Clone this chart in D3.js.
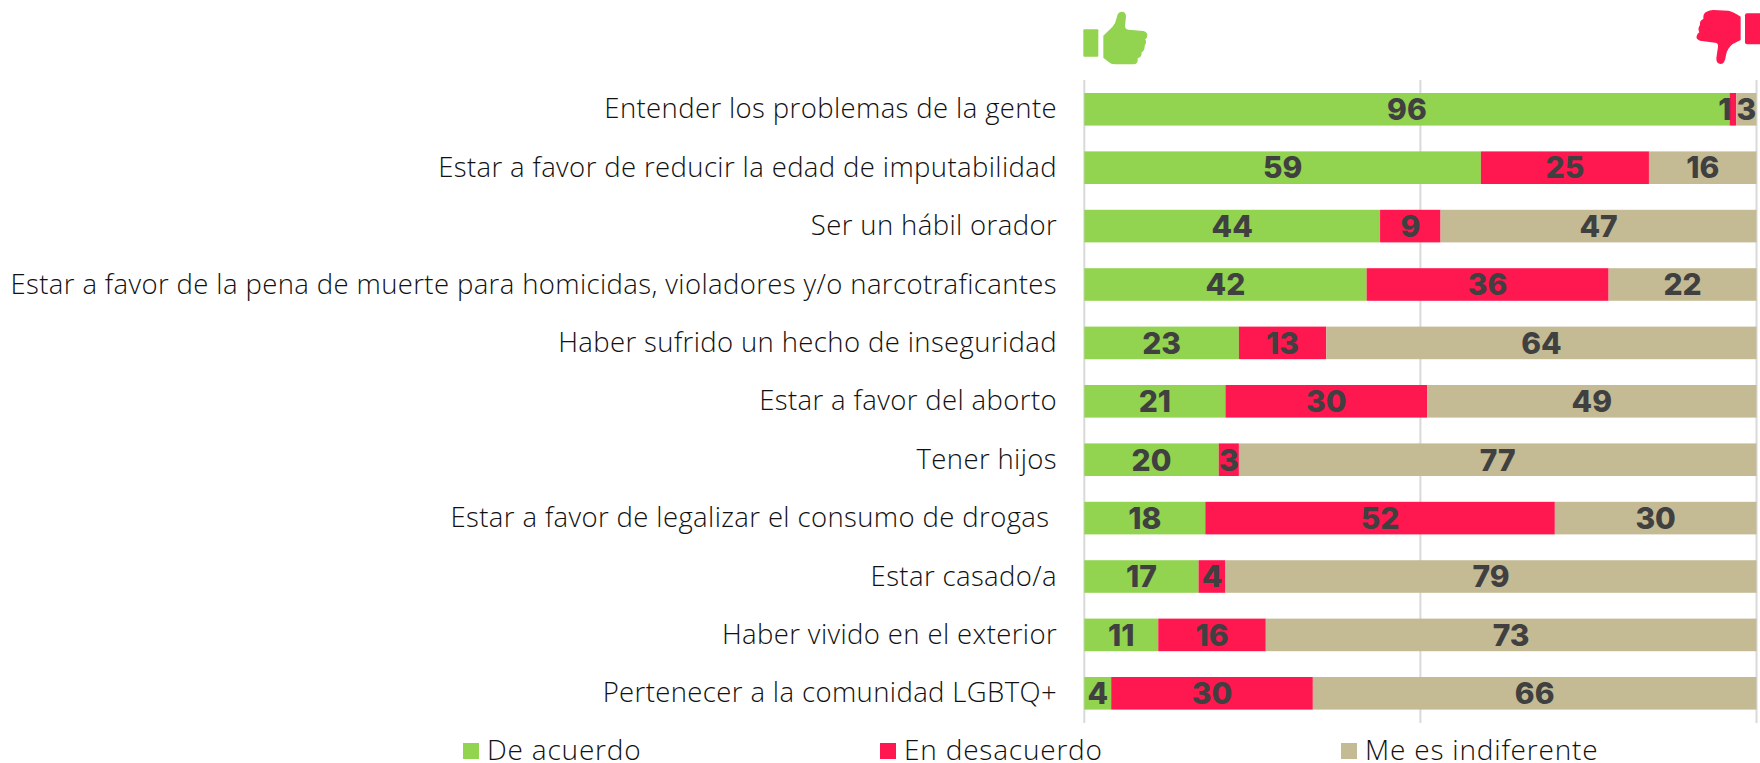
<!DOCTYPE html>
<html><head><meta charset="utf-8">
<script src="https://cdn.jsdelivr.net/npm/d3@7"></script>
<style>html,body{margin:0;padding:0;background:#fff}svg{display:block}</style></head>
<body><div id="c"></div>
<script>
const categories = ["Entender los problemas de la gente","Estar a favor de reducir la edad de imputabilidad","Ser un hábil orador","Estar a favor de la pena de muerte para homicidas, violadores y/o narcotraficantes","Haber sufrido un hecho de inseguridad","Estar a favor del aborto","Tener hijos","Estar a favor de legalizar el consumo de drogas ","Estar casado/a","Haber vivido en el exterior","Pertenecer a la comunidad LGBTQ+"];
const deAcuerdo = [96,59,44,42,23,21,20,18,17,11,4];
const enDesacuerdo = [1,25,9,36,13,30,3,52,4,16,30];
const indiferente = [3,16,47,22,64,49,77,30,79,73,66];
const seriesNames = ["De acuerdo","En desacuerdo","Me es indiferente"];
const colors = ["#92D350","#FF174F","#C4BB95"];
const gridTicks = [0,50,100];

const W=1760,H=763;
const svg=d3.select("#c").append("svg").attr("width",W).attr("height",H);
const x=d3.scaleLinear().domain([0,100]).range([1084.3,1756.5]);
const y=d3.scaleBand().domain(categories).range([93,709.6]).paddingInner(0.442);
const LF="'Open Sans', Lato, sans-serif";

svg.append("g").selectAll("line").data(gridTicks).join("line")
  .attr("x1",d=>x(d)).attr("x2",d=>x(d)).attr("y1",80).attr("y2",723)
  .attr("stroke","#d9d9d9").attr("stroke-width",2);

const rows=categories.map((c,i)=>{
  const vals=[deAcuerdo[i],enDesacuerdo[i],indiferente[i]];
  let a=0;
  return vals.map((v,s)=>{const o={c,s,v,x0:a,x1:a+v};a+=v;return o;});
}).flat();

svg.append("g").selectAll("rect").data(rows).join("rect")
  .attr("x",d=>x(d.x0)).attr("width",d=>x(d.x1)-x(d.x0))
  .attr("y",d=>y(d.c)).attr("height",y.bandwidth())
  .attr("fill",d=>colors[d.s]);

svg.append("g").selectAll("text").data(categories).join("text")
  .attr("x",1057).attr("y",d=>y(d)+y.bandwidth()/2).attr("dy","0.33em")
  .attr("text-anchor","end").attr("xml:space","preserve").style("white-space","pre")
  .attr("font-family",LF).attr("font-weight",300).attr("font-size",27.5).attr("letter-spacing",0.38).attr("fill","#111")
  .text(d=>d);

svg.append("g").selectAll("text").data(rows).join("text")
  .attr("x",d=>x((d.x0+d.x1)/2)+(d.v===1?-8:0)).attr("y",d=>y(d.c)+y.bandwidth()/2).attr("dy","0.36em")
  .attr("text-anchor","middle").attr("font-family","Inter, sans-serif").attr("font-weight",800)
  .attr("font-size",30).attr("fill","#404040").text(d=>d.v);

const legendX=[463,880,1341];
const lg=svg.append("g").selectAll("g").data(seriesNames).join("g");
lg.append("rect").attr("x",(d,i)=>legendX[i]).attr("y",743).attr("width",16).attr("height",16).attr("fill",(d,i)=>colors[i]);
lg.append("text").attr("x",(d,i)=>legendX[i]+24).attr("y",750).attr("dy","0.35em")
  .attr("font-family",LF).attr("font-weight",300).attr("font-size",28).attr("letter-spacing",0.8).attr("fill","#111").text(d=>d);

// thumb icons
const up=svg.append("g").attr("transform","translate(1075,5) scale(0.3333)").attr("fill",colors[0]);
up.append("rect").attr("x",25).attr("y",73).attr("width",45).attr("height",82).attr("rx",3);
up.append("path").attr("d","M85,92 L112,66 Q122,55 125,38 Q128,20 140,20 Q153,20 153,35 L150,62 Q150,73 160,74 L205,78 Q218,82 217,92 Q216,100 211,103 Q216,112 209,122 Q210,135 200,142 Q200,158 188,160 Q190,178 175,178 L120,178 Q108,178 100,170 L85,158 Z");
const down=svg.append("g").attr("transform","translate(1690,0) scale(0.3333)").attr("fill",colors[1]);
down.append("rect").attr("x",165).attr("y",40).attr("width",60).attr("height",93).attr("rx",6);
down.append("path").attr("d","M152,120 L128,132 Q112,145 108,165 Q105,192 92,192 Q79,192 79,175 L84,140 Q85,128 75,128 L30,122 Q17,118 20,108 Q22,100 28,97 Q22,85 30,75 Q28,62 40,57 Q38,40 50,35 Q58,30 70,30 L115,32 Q130,35 152,50 Z");
</script></body></html>
